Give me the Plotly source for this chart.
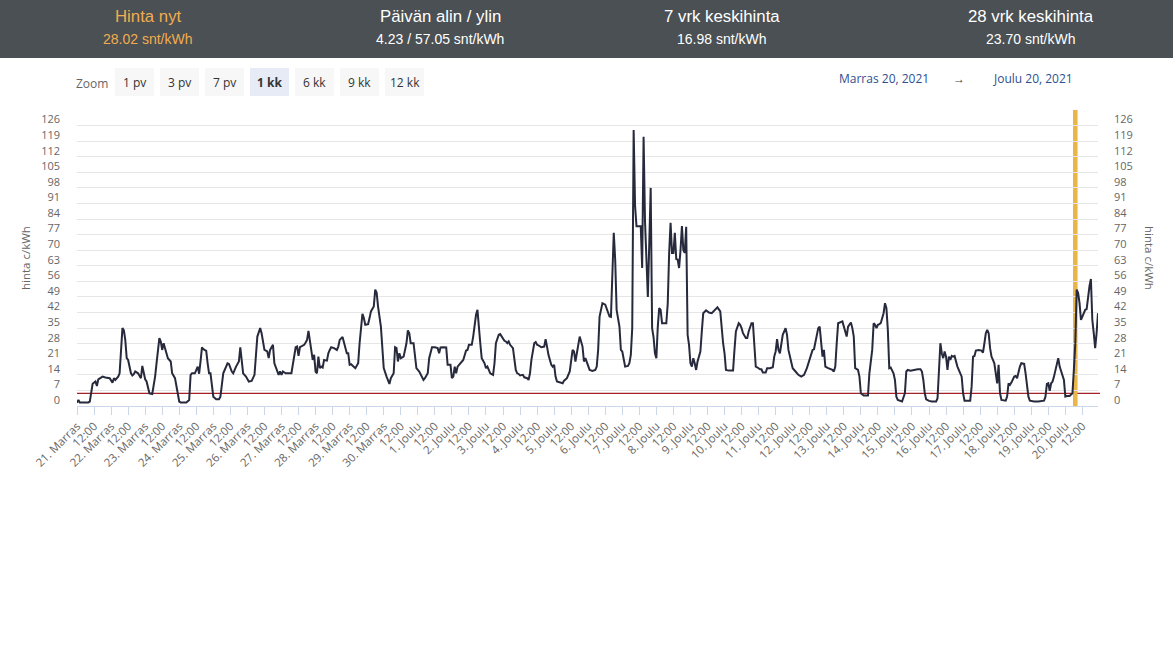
import pandas as pd
import plotly.graph_objects as go

# ---------------- data ----------------
start = pd.Timestamp("2021-11-21 00:00")

hours = [
    0, 1, 2, 8, 9, 11, 13, 14, 15, 18, 20, 23, 25, 26, 27, 29, 30, 32, 33, 34, 35, 36, 38, 39, 40, 41, 43, 45, 46, 47, 48, 49,
    51, 53, 54, 55, 56, 58, 59, 60, 61, 62, 64, 66, 67, 69, 70, 72, 73, 77, 79, 80, 81, 83, 85, 86, 87, 88, 89, 91, 92, 93, 94,
    95, 96, 98, 100, 101, 102, 103, 106, 107, 109, 110, 112, 113, 114, 115, 116, 117, 119, 120, 121,
    123, 125, 127, 129, 130, 131, 132, 134, 135, 136, 137, 138, 139, 141, 142, 143, 144, 145, 147, 151, 152, 154, 155, 156,
    157, 158, 160, 161, 162, 163, 164, 165, 166, 167, 168, 169, 170, 171, 172, 173, 174, 176, 177, 178, 179, 181, 183, 184,
    185, 187, 188, 190, 191, 192, 193, 195, 196, 198, 199, 201, 202, 203, 205, 206, 207, 209, 210, 211, 212, 214, 215, 216,
    218, 219, 220, 221, 223, 224, 225, 226, 227, 228, 230, 232, 233, 234, 235, 237, 238, 239, 241, 242,
    243, 244, 245, 247, 248, 249, 250, 252, 254, 255, 256, 258, 260, 261, 263, 264, 265, 266, 267, 268, 270, 271, 272, 274,
    275, 276, 278, 279, 280, 281, 282, 283, 284, 285, 287, 288, 289, 290, 291, 293, 294, 295, 297, 298, 299, 301, 302, 303,
    304, 305, 307, 308, 309, 310, 311, 312, 314, 315, 317, 318, 319, 320, 322, 323, 324, 325, 327, 329, 330, 331, 332, 334,
    335, 336, 337, 338, 340, 342, 343, 345, 347, 348, 349, 350, 351, 352, 353, 354, 356, 357, 358, 360, 361, 363, 365, 366,
    367, 368,
    370, 372, 373, 375, 376, 377, 378, 379, 380, 382, 383, 384, 385, 386, 388, 389, 390, 391, 392, 393, 394, 397, 398, 399,
    400, 401, 402, 403, 404, 405, 406, 407, 408, 409, 410, 411, 412, 415, 416, 417, 418, 419, 420, 421, 422, 423, 424, 425,
    426, 427, 428, 429, 430, 431, 432, 433, 434, 435, 436, 437, 439, 440, 441, 443, 445, 447, 449, 451, 453, 454, 455, 456,
    457, 459, 462, 463, 464, 466, 467, 468, 469, 471, 472, 473, 475, 476, 477, 478, 479, 481, 482, 483, 485, 486, 488, 490,
    491, 492, 493, 494, 495, 496, 497, 499, 500, 501, 502, 503,
    504, 506, 508, 510, 512, 514, 516, 518, 519, 520, 521, 522, 523, 524, 525, 526, 527, 529, 532, 533, 534, 535, 536, 539,
    540, 541, 542, 543, 545, 546, 547, 548, 550, 551, 552, 554, 557, 558, 560, 561, 562, 563, 564, 565, 566, 568, 569, 570,
    571, 572, 573, 575, 576, 577, 578, 581, 583, 584, 585, 587, 589, 592, 594, 595, 596, 597, 598, 600, 602, 605, 606, 607,
    608, 609, 610, 611, 612, 613, 614, 615, 616, 617, 618, 620, 621, 622, 623,
    624, 625, 629, 630, 631, 632, 633, 635, 637, 638, 639, 640, 641, 642, 643, 644, 645, 646, 647, 648, 649, 650, 651, 654,
    655, 656, 657, 658, 660, 661, 662, 663, 664, 665, 667, 668, 669, 670, 671, 674, 677, 681, 682, 683, 684, 685, 686, 687,
    688, 690, 691, 692, 694, 695, 696, 697, 699, 700, 701, 702, 703, 704, 705, 706, 707, 708, 709, 710, 711, 712, 713, 714,
    715, 716, 717, 718, 719,
]

prices = [
    1.5, 2.7, 1.6, 1.6, 2, 10, 11, 9, 12, 13.2, 12.8, 12.5, 10.5, 12.5, 11.7, 13.2, 14.7, 35, 34, 29.7, 21.5, 20.7, 14.7, 13.7, 14.3, 15.5, 14.7, 12.5, 18, 14.7, 12, 11,
    5.7, 5.4, 8.7, 13.2, 19.2, 30.5, 29, 25.2, 28.2, 26, 21.5, 20, 14.7, 12.5, 8.7, 2, 1.6, 1.6, 2.7, 14, 14.7, 14.7, 17.7, 14.5, 20, 26.3, 25.5, 24.8, 19.2, 14.7, 14.7,
    10.2, 4.2, 3, 3, 4.2, 10.2, 14.7, 19.2, 18.9, 15.5, 14.7, 17.7, 19.2, 20, 26.3, 20, 14.7, 13.2, 11.7, 11,
    11.3, 14, 31.2, 35, 32.7, 28.2, 25.2, 24.5, 21.5, 25.2, 26.7, 27.5, 19.2, 16.2, 14, 15.5, 14, 15.5, 14.7, 14.7, 18.5, 26.4, 26.7, 22.5,
    26.4, 26.7, 27.5, 28.5, 29.7, 33.8, 29.7, 25.2, 20.7, 23, 15.5, 14.7, 22.2, 17, 17.7, 17.3, 20.7, 20.4, 23.7, 25.2, 26.4, 26, 25.2, 26.7,
    29.7, 31, 28.2, 23.7, 23.7, 18.5, 18.8, 17.4, 17, 19.2, 28.2, 41.4, 39.5, 36.5, 36.8, 39.5, 42.5, 44.7, 52.3, 51, 44.7, 35.7, 25.2, 17,
    13.2, 11.7, 9.9, 12.5, 14.7, 26.4, 26, 20, 23.7, 21.5, 22.2, 28.2, 34, 32.7, 28.2, 28.2, 22.2, 17, 15.5, 14,
    13.2, 11.7, 12.5, 14.7, 21.5, 24.5, 26.4, 26.4, 26, 23.7, 26.3, 26.4, 26.3, 18.5, 18.5, 12.5, 13.2, 17.7, 14.7, 17.7, 19.2, 20, 20.7, 24.9,
    25.2, 27.5, 27.5, 31.2, 37.2, 41, 43.2, 37.2, 28.2, 21.5, 19.2, 17, 17.7, 16.2, 14.7, 14, 19.2, 28.2, 32, 32.3, 31.2, 29.3, 29, 28.2,
    29, 27.5, 26, 21.5, 16.2, 14.7, 14.4, 13.7, 14, 12.9, 12.5, 11.7, 14.7, 20.7, 28.2, 28.7, 27.5, 27.2, 26.4, 26.7, 30, 26.7, 23, 18.5,
    17.7, 18.5, 13.2, 11, 10.5, 10.2, 11.4, 12.5, 15.5, 20, 25.2, 24.5, 20, 23.7, 26.7, 31.2, 26.7, 20, 21.5, 17.7, 16.2, 15.8, 16.2, 17.7,
    25.2, 40.2,
    46.2, 45.5, 44, 40.2, 40, 55, 77.8, 65.8, 43.2, 35.7, 25.2, 24.5, 20, 17.7, 18, 19.2, 23, 35, 124, 90, 80.8, 80.8, 62, 121,
    83, 65, 49, 73, 98, 35, 31, 23.7, 21.5, 35.7, 44, 43.2, 37.2, 37.2, 46, 68.8, 82.3, 68.8, 68.8, 77.8, 66, 65.8, 62, 70,
    80.8, 70, 68.8, 80.5, 32, 27.5, 19.2, 17.7, 21.5, 19.2, 16.2, 20, 24.5, 33.5, 41.7, 43, 42, 41.7, 42.8, 44.3, 42.5, 34.2, 28.2, 23.7,
    16.2, 15.9, 15.9, 25.2, 33.5, 37.2, 36.5, 35, 32.7, 30.5, 30.5, 33.5, 37.2, 37.2, 28.2, 17.7, 17.4, 16.5, 16.5, 15, 15, 17, 17, 17.4,
    22.2, 24.5, 30, 25.2, 23.7, 29, 32, 35, 32, 25.2, 22.2, 20,
    17, 15.5, 14, 13.2, 14, 17, 20.7, 25.2, 25.5, 28.2, 32, 35, 35.7, 30, 22.2, 25.2, 17.7, 17, 16.2, 15.5, 17.7, 28.2, 37.2, 38,
    36, 33.5, 31.2, 35.7, 37.5, 35, 31.2, 17, 16.2, 13.2, 5.7, 4.7, 4.7, 14.7, 25.2, 37.2, 36.5, 35, 36.5, 36.8, 37.2, 41.7, 46.2, 44,
    34.2, 17, 17.3, 14.7, 11.7, 4.2, 2.7, 2, 5.7, 15.5, 16.2, 15.9, 16.2, 16.5, 16.5, 15.5, 11.7, 5.7, 3, 2.3, 2, 2, 3.5, 17.7,
    28.2, 23.7, 21.5, 24.5, 22.2, 16.2, 22.2, 20.7, 22.5, 22.2, 22.5, 17.7, 16.2, 14.7, 13.2,
    5.7, 2.4, 2.4, 8.7, 22.2, 22.5, 24.9, 25.2, 24.9, 24, 28.2, 32.7, 34.2, 32.7, 26, 22.2, 20.7, 19.2, 14.7, 10.2, 18.5, 5.7, 2.7, 2.4,
    4.2, 10.2, 9.5, 10.5, 13.2, 13.5, 12.5, 15.5, 17.7, 19.2, 18.9, 14.7, 8.7, 4.2, 2.4, 2, 2, 2.4, 4.2, 9.9, 10.2, 6.8, 10.2, 11,
    13.2, 18.9, 21.5, 17.7, 13.2, 11.7, 4.23, 4.5, 4.5, 5, 5.7, 16.2, 28.02, 52.3, 50.8, 46.2, 38.7, 40.2, 41.7, 43.2, 43.5, 49.2, 53.8, 57.05,
    38.7, 32.7, 26, 32.7, 41.7,
]

day_labels = [
    "21. Marras", "22. Marras", "23. Marras", "24. Marras", "25. Marras", "26. Marras", "27. Marras", "28. Marras",
    "29. Marras", "30. Marras", "1. Joulu", "2. Joulu", "3. Joulu", "4. Joulu", "5. Joulu", "6. Joulu", "7. Joulu",
    "8. Joulu", "9. Joulu", "10. Joulu", "11. Joulu", "12. Joulu", "13. Joulu", "14. Joulu", "15. Joulu", "16. Joulu",
    "17. Joulu", "18. Joulu", "19. Joulu", "20. Joulu",
]
noon_label = "12:00"
y_ticks = [0, 7, 14, 21, 28, 35, 42, 49, 56, 63, 70, 77, 84, 91, 98, 105, 112, 119, 126, 133]
y_ticktext = ["0", "7", "14", "21", "28", "35", "42", "49", "56", "63", "70", "77", "84", "91", "98", "105",
              "112", "119", "126", ""]
threshold_value = 5.7
now_hour = 703
last_hour = 719

header_titles = ["Hinta nyt", "Päivän alin / ylin", "7 vrk keskihinta", "28 vrk keskihinta"]
header_values = ["28.02 snt/kWh", "4.23 / 57.05 snt/kWh", "16.98 snt/kWh", "23.70 snt/kWh"]
zoom_buttons = ["1 pv", "3 pv", "7 pv", "1 kk", "6 kk", "9 kk", "12 kk"]
selected_button = "1 kk"
range_from = "Marras 20, 2021"
range_to = "Joulu 20, 2021"
y_title = "hinta c/kWh"

# ---------------- figure ----------------
W, H = 1173, 648
ML, MR, MT, MB = 77, 75, 110, 242
PW, PH = W - ML - MR, H - MT - MB


def px(x):
    return (x - ML) / PW


def py(y):
    return (H - MB - y) / PH


times = [start + pd.Timedelta(hours=h) for h in hours]
tick_vals, tick_text = [], []
for i, d in enumerate(day_labels):
    tick_vals.append(start + pd.Timedelta(hours=24 * i))
    tick_text.append(d)
    tick_vals.append(start + pd.Timedelta(hours=24 * i + 12))
    tick_text.append(noon_label)

AX_FONT = dict(family="Open Sans, DejaVu Sans, sans-serif", size=11, color="#666666")
HF = "Liberation Sans, Arial, sans-serif"

fig = go.Figure()
fig.add_trace(go.Scatter(x=times, y=prices, mode="lines",
                         line=dict(color="#272a3c", width=2), hoverinfo="x+y", showlegend=False))
fig.add_trace(go.Scatter(x=times[:1], y=prices[:1], mode="markers", marker=dict(opacity=0),
                         yaxis="y2", hoverinfo="skip", showlegend=False))

shapes = []
annotations = []

# header bar
shapes.append(dict(type="rect", xref="paper", yref="paper", x0=px(0), x1=px(W), y0=py(58), y1=py(0),
                   fillcolor="#4b5054", line=dict(width=0), layer="above"))
col_x = [148, 440, 722, 1031]
for i, (t, v) in enumerate(zip(header_titles, header_values)):
    c = "#f0ad4e" if i == 0 else "#ffffff"
    annotations.append(dict(xref="paper", yref="paper", x=px(col_x[i]), y=py(17), text=t, showarrow=False,
                            xanchor="center", yanchor="middle", font=dict(family=HF, size=16.8, color=c)))
    annotations.append(dict(xref="paper", yref="paper", x=px(col_x[i]), y=py(39), text=v, showarrow=False,
                            xanchor="center", yanchor="middle", font=dict(family=HF, size=14, color=c)))

# zoom buttons
annotations.append(dict(xref="paper", yref="paper", x=px(92), y=py(84), text="Zoom", showarrow=False,
                        xanchor="center", yanchor="middle",
                        font=dict(family="Open Sans, sans-serif", size=12, color="#666666")))
bx = 115
for lab in zoom_buttons:
    w = 40
    sel = lab == selected_button
    shapes.append(dict(type="rect", xref="paper", yref="paper", x0=px(bx), x1=px(bx + w - 1), y0=py(96), y1=py(68),
                       fillcolor="#e6ebf5" if sel else "#f7f7f7", line=dict(width=0), layer="above"))
    annotations.append(dict(xref="paper", yref="paper", x=px(bx + (w - 1) / 2), y=py(82),
                            text=f"<b>{lab}</b>" if sel else lab, showarrow=False, xanchor="center",
                            yanchor="middle", font=dict(family="Open Sans, sans-serif", size=12, color="#333333")))
    bx += 45

for txt, xc in [(range_from, 884), ("→", 959), (range_to, 1033)]:
    annotations.append(dict(xref="paper", yref="paper", x=px(xc), y=py(78), text=txt, showarrow=False,
                            xanchor="center", yanchor="middle",
                            font=dict(family="Open Sans, sans-serif", size=12,
                                      color="#444444" if txt == "→" else "#2f4f8f")))

# axis titles
annotations.append(dict(xref="paper", yref="paper", x=px(25), y=py(258), text=y_title, showarrow=False,
                        textangle=-90, xanchor="center", yanchor="middle", font=dict(AX_FONT, size=11.5)))
annotations.append(dict(xref="paper", yref="paper", x=px(1150), y=py(258), text=y_title, showarrow=False,
                        textangle=90, xanchor="center", yanchor="middle", font=dict(AX_FONT, size=11.5)))

# threshold line and "now" band
shapes.append(dict(type="line", xref="paper", yref="y", x0=0, x1=px(1100), y0=threshold_value, y1=threshold_value,
                   line=dict(color="#a3222a", width=1.3), layer="between"))
shapes.append(dict(type="rect", xref="x", yref="paper",
                   x0=start + pd.Timedelta(hours=now_hour - 1.6), x1=start + pd.Timedelta(hours=now_hour + 1.6),
                   y0=0, y1=1, fillcolor="#ebb547", line=dict(width=0), layer="between"))

fig.update_layout(
    width=W, height=H, paper_bgcolor="white", plot_bgcolor="white",
    margin=dict(l=ML, r=MR, t=MT, b=MB, autoexpand=False),
    shapes=shapes, annotations=annotations, showlegend=False,
    xaxis=dict(type="date", range=[start, start + pd.Timedelta(hours=last_hour)],
               tickmode="array", tickvals=tick_vals, ticktext=tick_text, tickangle=-45,
               ticks="outside", ticklen=8, tickcolor="#ccd6eb", tickwidth=1,
               showline=True, linecolor="#ccd6eb", linewidth=1, showgrid=False, zeroline=False,
               tickfont=dict(AX_FONT, size=11.5), fixedrange=True),
    yaxis=dict(range=[0, 133], tickmode="array", tickvals=y_ticks, ticktext=y_ticktext,
               showgrid=True, gridcolor="#e6e6e6", gridwidth=1, zeroline=False, showline=False,
               ticks="", ticklabelposition="outside", ticklabelshift=-6, ticklabelstandoff=16,
               tickfont=AX_FONT, fixedrange=True),
    yaxis2=dict(range=[0, 133], overlaying="y", side="right", tickmode="array", tickvals=y_ticks,
                ticktext=y_ticktext, showgrid=False, zeroline=False, showline=False, ticks="",
                ticklabelposition="outside", ticklabelshift=-6, ticklabelstandoff=15, tickfont=AX_FONT,
                fixedrange=True),
)

fig.write_html("out.html", config={"displayModeBar": False},
               post_script="document.body.style.margin='0px';document.body.style.padding='0px';")
